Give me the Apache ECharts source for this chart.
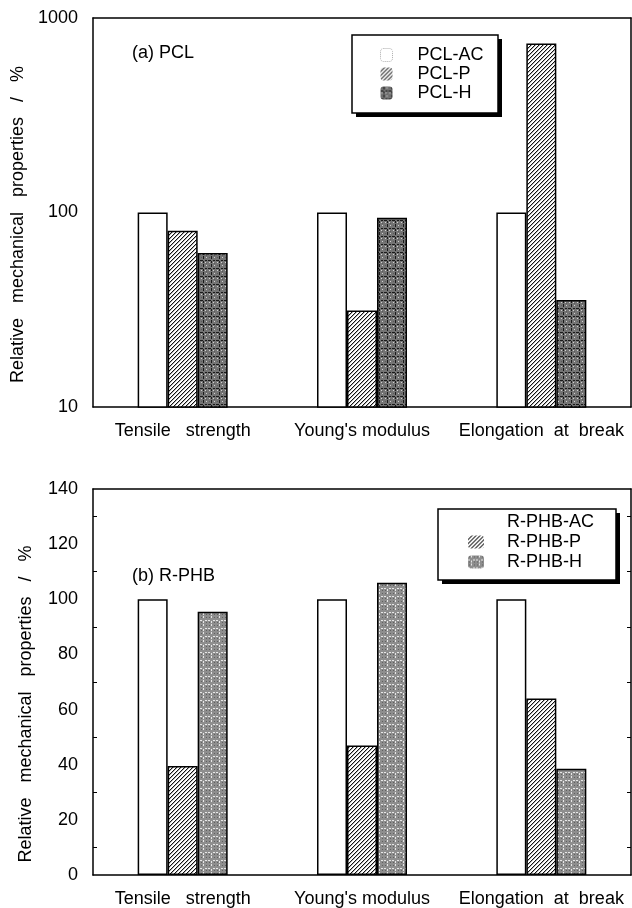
<!DOCTYPE html>
<html>
<head>
<meta charset="utf-8">
<script src="https://cdn.jsdelivr.net/npm/echarts@6/dist/echarts.min.js"></script>
<style>
html,body{margin:0;padding:0;background:#fff;}
#main{width:632px;height:908px;}
</style>
</head>
<body>
<div id="main"></div>
<script>
// ---- data ----
const categories = ['Tensile   strength', "Young's modulus", 'Elongation  at  break'];
const pclNames = ['PCL-AC', 'PCL-P', 'PCL-H'];
const pclAC = [100, 100, 100];
const pclP = [80.5, 31.3, 740];
const pclH = [62, 94, 35.5];
const phbNames = ['R-PHB-AC', 'R-PHB-P', 'R-PHB-H'];
const phbAC = [100, 100, 100];
const phbP = [39.5, 47, 64];
const phbH = [95.5, 106, 38.5];
const logMajor = [10, 100, 1000];
const logMinor = [20,30,40,50,60,70,80,90,200,300,400,500,600,700,800,900];

// ---- patterns ----
function tile(w, h, draw) {
  const c = document.createElement('canvas');
  c.width = w; c.height = h;
  const g = c.getContext('2d');
  draw(g);
  return c;
}
const hatch = tile(4, 4, g => {
  g.fillStyle = '#fff'; g.fillRect(0,0,4,4);
  g.fillStyle = '#111';
  for (let i = 0; i < 4; i++) g.fillRect(i, 3 - i, 1, 1);
  g.fillStyle = 'rgba(0,0,0,0.3)';
  for (let i = 0; i < 4; i++) g.fillRect(i, (4 - i) % 4, 1, 1);
});
const darkStipple = tile(8, 8, g => {
  g.fillStyle = '#747474'; g.fillRect(0,0,8,8);
  g.fillStyle = '#1a1a1a';
  g.fillRect(3,0,1,3); g.fillRect(3,5,1,2); g.fillRect(0,4,3,1); g.fillRect(5,4,2,1);
  g.fillStyle = '#5a5a5a';
  g.fillRect(6,7,1,1); g.fillRect(1,1,1,1);
  g.fillStyle = '#d0d0d0';
  g.fillRect(6,1,1,1); g.fillRect(1,6,1,1); g.fillRect(5,6,1,1);
});
const lightStipple = tile(8, 8, g => {
  g.fillStyle = '#8e8e8e'; g.fillRect(0,0,8,8);
  g.fillStyle = '#e6e6e6';
  g.fillRect(3,0,1,2); g.fillRect(3,5,1,2); g.fillRect(0,4,2,1); g.fillRect(5,4,2,1);
  g.fillStyle = '#606060';
  g.fillRect(6,1,1,1); g.fillRect(1,6,1,1); g.fillRect(6,6,1,1); g.fillRect(1,1,1,1);
});

const FONT = 'Liberation Sans';
const FS = 18;
const tickLabel = {color:'#000', fontFamily:FONT, fontSize:FS};
const lineStyle = {color:'#000', width:1.5};

function xAxes(grid) {
  return [
    {type:'category', gridIndex:grid, position:'bottom', data:categories,
     axisLine:{onZero:false, lineStyle},
     axisTick:{inside:true, length:8, lineStyle:{color:'#000', width:1}},
     axisLabel:{...tickLabel, margin:15, interval:0}},
    {type:'category', gridIndex:grid, position:'top', data:categories,
     axisLine:{onZero:false, lineStyle},
     axisTick:{inside:true, length:8, lineStyle:{color:'#000', width:1}},
     axisLabel:{show:false}}
  ];
}
const yName = 'Relative   mechanical   properties   /   %';

function box(x, y, w, h) {
  return [
    {type:'rect', z:5, shape:{x:x+4, y:y+4, width:w, height:h}, style:{fill:'#000'}},
    {type:'rect', z:5, shape:{x:x, y:y, width:w, height:h}, style:{fill:'#fff', stroke:'#000', lineWidth:1.5}}
  ];
}

const option = {
  animation:false,
  backgroundColor:'#fff',
  title:[
    {text:'(a) PCL', left:132, top:44, textStyle:{color:'#000', fontFamily:FONT, fontSize:FS, fontWeight:'normal'}, padding:0},
    {text:'(b) R-PHB', left:132, top:567, textStyle:{color:'#000', fontFamily:FONT, fontSize:FS, fontWeight:'normal'}, padding:0}
  ],
  graphic:[...box(352, 35, 146, 78), ...box(438, 509, 178, 71)],
  legend:[
    {data:[{name:'PCL-AC', itemStyle:{borderColor:'#aaa', borderWidth:1, borderType:'dotted'}}, 'PCL-P', 'PCL-H'],
     orient:'vertical', left:352, top:35, itemWidth:12, itemHeight:13, itemGap:1, z:10,
     padding:[11, 0, 0, 28],
     itemStyle:{borderWidth:0}, textStyle:{color:'#000', fontFamily:FONT, fontSize:FS, padding:[0,0,0,20]},
     selectedMode:false},
    {data:['R-PHB-AC', 'R-PHB-P', 'R-PHB-H'],
     orient:'vertical', left:438, top:509, itemWidth:16, itemHeight:13, itemGap:2, z:10,
     padding:[4, 0, 0, 30],
     itemStyle:{borderWidth:0}, textStyle:{color:'#000', fontFamily:FONT, fontSize:FS, padding:[0,0,0,18]},
     selectedMode:false}
  ],
  grid:[
    {left:93, right:1, top:18, height:389},
    {left:93, right:1, top:489, height:388}
  ],
  xAxis:[...xAxes(0), ...xAxes(1)],
  yAxis:[
    {type:'log', logBase:10, gridIndex:0, position:'left', min:10, max:1000,
     name:yName, nameLocation:'middle', nameGap:58,
     nameTextStyle:{color:'#000', fontFamily:FONT, fontSize:FS, padding:[0,24,0,0]},
     axisLine:{show:true, lineStyle}, axisTick:{inside:true, length:8, customValues:logMajor, lineStyle:{color:'#000'}},
     axisLabel:{...tickLabel, margin:15, customValues:logMajor, formatter:v => String(v)}, splitLine:{show:false}},
    {type:'log', logBase:10, gridIndex:0, position:'left', min:10, max:1000,
     axisLine:{show:false}, axisTick:{inside:true, length:4, customValues:logMinor, lineStyle:{color:'#000'}},
     axisLabel:{show:false}, splitLine:{show:false}},
    {type:'log', logBase:10, gridIndex:0, position:'right', min:10, max:1000,
     axisLine:{show:true, lineStyle}, axisTick:{inside:true, length:8, customValues:logMajor, lineStyle:{color:'#000'}},
     axisLabel:{show:false}, splitLine:{show:false}},
    {type:'log', logBase:10, gridIndex:0, position:'right', min:10, max:1000,
     axisLine:{show:false}, axisTick:{inside:true, length:4, customValues:logMinor, lineStyle:{color:'#000'}},
     axisLabel:{show:false}, splitLine:{show:false}},
    {type:'value', gridIndex:1, position:'left', min:0, max:140, interval:20,
     name:yName, nameLocation:'middle', nameGap:58,
     nameTextStyle:{color:'#000', fontFamily:FONT, fontSize:FS, padding:[0,44,0,0]},
     axisLine:{show:true, lineStyle}, axisTick:{inside:true, length:8, lineStyle:{color:'#000'}},
     minorTick:{show:true, splitNumber:2, length:4, lineStyle:{color:'#000'}},
     axisLabel:{...tickLabel, margin:15}, splitLine:{show:false}},
    {type:'value', gridIndex:1, position:'right', min:0, max:140, interval:20,
     axisLine:{show:true, lineStyle}, axisTick:{inside:true, length:8, lineStyle:{color:'#000'}},
     minorTick:{show:true, splitNumber:2, length:4, lineStyle:{color:'#000'}},
     axisLabel:{show:false}, splitLine:{show:false}}
  ],
  series:[
    {name:pclNames[0], type:'bar', xAxisIndex:0, yAxisIndex:0, data:pclAC, barWidth:30, barGap:'0%',
     itemStyle:{color:'#fff', borderColor:'#000', borderWidth:1.5}},
    {name:pclNames[1], type:'bar', xAxisIndex:0, yAxisIndex:0, data:pclP, barWidth:30, barGap:'0%',
     itemStyle:{color:{image:hatch, repeat:'repeat'}, borderColor:'#000', borderWidth:1.5}},
    {name:pclNames[2], type:'bar', xAxisIndex:0, yAxisIndex:0, data:pclH, barWidth:30, barGap:'0%',
     itemStyle:{color:{image:darkStipple, repeat:'repeat'}, borderColor:'#000', borderWidth:1.5}},
    {name:phbNames[0], type:'bar', xAxisIndex:2, yAxisIndex:4, data:phbAC, barWidth:30, barGap:'0%',
     itemStyle:{color:'#fff', borderColor:'#000', borderWidth:1.5}},
    {name:phbNames[1], type:'bar', xAxisIndex:2, yAxisIndex:4, data:phbP, barWidth:30, barGap:'0%',
     itemStyle:{color:{image:hatch, repeat:'repeat'}, borderColor:'#000', borderWidth:1.5}},
    {name:phbNames[2], type:'bar', xAxisIndex:2, yAxisIndex:4, data:phbH, barWidth:30, barGap:'0%',
     itemStyle:{color:{image:lightStipple, repeat:'repeat'}, borderColor:'#000', borderWidth:1.5}}
  ]
};
const chart = echarts.init(document.getElementById('main'), null, {renderer:'canvas'});
chart.setOption(option);
</script>
</body>
</html>
